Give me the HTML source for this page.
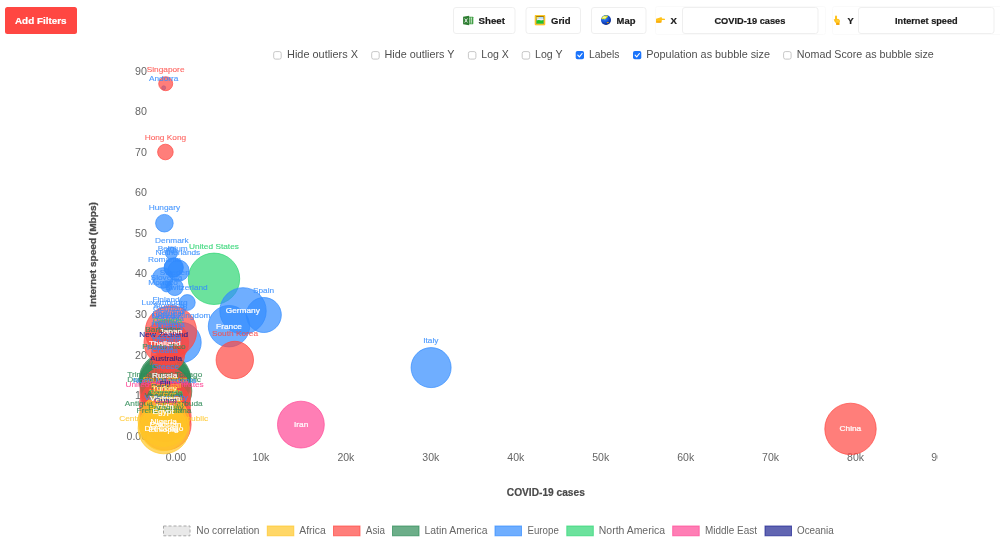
<!DOCTYPE html>
<html lang="en">
<head>
<meta charset="utf-8">
<title>Nomad List – COVID-19 cases vs Internet speed</title>
<style>
html,body{margin:0;padding:0;background:#fff;}
body{width:1000px;height:540px;overflow:hidden;font-family:'Liberation Sans', sans-serif;}
svg{display:block;will-change:transform;font-family:"Liberation Sans",sans-serif;}
svg text{font-family:"Liberation Sans",sans-serif;}
</style>
</head>
<body>
<svg width="1000" height="540" viewBox="0 0 1000 540">
<rect x="5" y="7" width="72" height="27" rx="2.5" fill="#ff4742"/>
<text x="15" y="23.6" font-size="9.4" font-weight="700" stroke="#fff" stroke-width=".2" fill="#fff" text-anchor="start" textLength="51.5" lengthAdjust="spacingAndGlyphs">Add Filters</text>
<rect x="453.5" y="7.5" width="61.5" height="26" rx="2.5" fill="#fff" stroke="#efefef"/>
<rect x="526.0" y="7.5" width="54.5" height="26" rx="2.5" fill="#fff" stroke="#efefef"/>
<rect x="591.5" y="7.5" width="54.5" height="26" rx="2.5" fill="#fff" stroke="#efefef"/>
<text x="478.6" y="23.6" font-size="9.4" font-weight="700" stroke="#1a1a1a" stroke-width=".2" fill="#1a1a1a" text-anchor="start" textLength="26.4" lengthAdjust="spacingAndGlyphs">Sheet</text>
<text x="551" y="23.6" font-size="9.4" font-weight="700" stroke="#1a1a1a" stroke-width=".2" fill="#1a1a1a" text-anchor="start" textLength="19.6" lengthAdjust="spacingAndGlyphs">Grid</text>
<text x="616.6" y="23.6" font-size="9.4" font-weight="700" stroke="#1a1a1a" stroke-width=".2" fill="#1a1a1a" text-anchor="start" textLength="18.8" lengthAdjust="spacingAndGlyphs">Map</text>
<rect x="655.5" y="6.5" width="170" height="28" rx="2" fill="#fff" stroke="#fafafa"/>
<rect x="832.5" y="6.5" width="170" height="28" rx="2" fill="#fff" stroke="#fafafa"/>
<rect x="682.5" y="7.5" width="135.5" height="26" rx="2.5" fill="#fff" stroke="#efefef"/>
<rect x="858.5" y="7.5" width="135.5" height="26" rx="2.5" fill="#fff" stroke="#efefef"/>
<text x="670.6" y="23.6" font-size="9.4" font-weight="700" stroke="#1a1a1a" stroke-width=".2" fill="#1a1a1a" text-anchor="start" textLength="6.4" lengthAdjust="spacingAndGlyphs">X</text>
<text x="847.4" y="23.6" font-size="9.4" font-weight="700" stroke="#1a1a1a" stroke-width=".2" fill="#1a1a1a" text-anchor="start" textLength="6.2" lengthAdjust="spacingAndGlyphs">Y</text>
<text x="714.4" y="23.6" font-size="9.4" font-weight="700" stroke="#1a1a1a" stroke-width=".2" fill="#1a1a1a" text-anchor="start" textLength="71" lengthAdjust="spacingAndGlyphs">COVID-19 cases</text>
<text x="895" y="23.6" font-size="9.4" font-weight="700" stroke="#1a1a1a" stroke-width=".2" fill="#1a1a1a" text-anchor="start" textLength="62.6" lengthAdjust="spacingAndGlyphs">Internet speed</text>
<g transform="translate(463.1,15.7)"><rect x="4.6" y="1.1" width="5.6" height="7.4" rx=".4" fill="#43a047"/><path d="M6.6 1.9v5.8M8.3 1.9v5.8" stroke="#fff" stroke-width=".9"/><path d="M5.4 3.5h4.6M5.4 5.1h4.6M5.4 6.6h4.6" stroke="#43a047" stroke-width=".45"/><path d="M0 1.1l6-1.1v9.6l-6-1.1z" fill="#2e7d32"/><path d="M1.6 2.8l2.7 4M4.3 2.8L1.6 6.8" stroke="#fff" stroke-width=".85"/></g>
<g transform="translate(534.8,15)"><rect width="10.4" height="10.2" rx=".7" fill="#f4b90a"/><rect x=".5" y=".5" width="9.4" height="9.2" rx=".4" fill="none" stroke="#ffd74a" stroke-width=".5"/><rect x="1.5" y="1.3" width="7.4" height="7.4" fill="#8a5c00"/><rect x="1.8" y="2" width="6.8" height="6.5" fill="#a9dcff"/><circle cx="2.9" cy="3" r="1.1" fill="#ffee55"/><rect x="2.4" y="3.7" width="6.2" height="1.3" fill="#eceaff"/><path d="M1.8 5.4q2-.9 3.6-.2q1.700.5 3.200-.2v3.500h-6.800z" fill="#22c522"/></g>
<defs><radialGradient id="gl" cx="38%" cy="32%" r="72%"><stop offset="0" stop-color="#3f8ff5"/><stop offset=".55" stop-color="#1652d6"/><stop offset="1" stop-color="#07207c"/></radialGradient></defs>
<g transform="translate(606,20)"><circle r="5" fill="url(#gl)"/><path d="M-4.6 -1.2C-4.200 -3.800 -1.400 -5.200 1.600 -4.400C2.300 -3.300 1.300 -2.300 .4 -2.100C-.5 -1.500 -.8 -.300 -1.700 -.700C-2.400 -1.500 -3.200 0 -4.600 -1.200z" fill="#dfe52a"/><ellipse cx="-1.6" cy="-2.7" rx="1.7" ry=".9" fill="#fffdd0" opacity=".75"/><ellipse cx="1.8" cy="2.6" rx="1.1" ry=".6" fill="#f0a400"/></g>
<g transform="translate(656,17)"><path d="M0 1.700L3.400 .800L5.500 0L6 1.600L8.800 1.700Q9.300 2.300 8.800 2.900L5.900 3.100L5.600 5.200Q3 6 0 5.600Z" fill="#ffc21a"/><rect x=".1" y="4.500" width="5.200" height="1.100" rx=".4" fill="#f39a00"/></g>
<g transform="translate(833.7,15.6)"><rect x="1.300" y="0" width="2" height="5.500" rx="1" fill="#ffc21a"/><path d="M0 3.800Q.600 3.100 1.300 3.900L1.300 3.200L3.300 3.200Q5.100 3.200 6 4.400Q6.600 5.800 5.800 7.300L5.700 9.200L2.500 9.200L2.300 7.500Q.700 6.200 0 3.800Z" fill="#ffc21a"/><rect x="2.500" y="7.700" width="3.200" height="1.500" rx=".4" fill="#f39a00"/><path d="M3.300 4.200v2M4.500 4.500v1.800" stroke="#ffe27a" stroke-width=".5"/></g>
<rect x="273.7" y="51.6" width="7.5" height="7.5" rx="1.8" fill="#fff" stroke="#b9b9b9" stroke-width=".8"/>
<text x="287" y="57.7" font-size="11.2" fill="#4f4f4f" text-anchor="start" textLength="71" lengthAdjust="spacingAndGlyphs">Hide outliers X</text>
<rect x="371.7" y="51.6" width="7.5" height="7.5" rx="1.8" fill="#fff" stroke="#b9b9b9" stroke-width=".8"/>
<text x="384.5" y="57.7" font-size="11.2" fill="#4f4f4f" text-anchor="start" textLength="70" lengthAdjust="spacingAndGlyphs">Hide outliers Y</text>
<rect x="468.4" y="51.6" width="7.5" height="7.5" rx="1.8" fill="#fff" stroke="#b9b9b9" stroke-width=".8"/>
<text x="481.3" y="57.7" font-size="11.2" fill="#4f4f4f" text-anchor="start" textLength="27.5" lengthAdjust="spacingAndGlyphs">Log X</text>
<rect x="522.1999999999999" y="51.6" width="7.5" height="7.5" rx="1.8" fill="#fff" stroke="#b9b9b9" stroke-width=".8"/>
<text x="535" y="57.7" font-size="11.2" fill="#4f4f4f" text-anchor="start" textLength="27.5" lengthAdjust="spacingAndGlyphs">Log Y</text>
<rect x="575.7" y="50.9" width="8.3" height="8.3" rx="1.8" fill="#1b74fb"/>
<path d="M577.8000000000001 55.2l1.6 1.6l2.7-3.3" fill="none" stroke="#fff" stroke-width="1.15" stroke-linecap="round" stroke-linejoin="round"/>
<text x="589" y="57.7" font-size="11.2" fill="#4f4f4f" text-anchor="start" textLength="30.5" lengthAdjust="spacingAndGlyphs">Labels</text>
<rect x="633" y="50.9" width="8.3" height="8.3" rx="1.8" fill="#1b74fb"/>
<path d="M635.1 55.2l1.6 1.6l2.7-3.3" fill="none" stroke="#fff" stroke-width="1.15" stroke-linecap="round" stroke-linejoin="round"/>
<text x="646.3" y="57.7" font-size="11.2" fill="#4f4f4f" text-anchor="start" textLength="123.7" lengthAdjust="spacingAndGlyphs">Population as bubble size</text>
<rect x="783.6" y="51.6" width="7.5" height="7.5" rx="1.8" fill="#fff" stroke="#b9b9b9" stroke-width=".8"/>
<text x="796.8" y="57.7" font-size="11.2" fill="#4f4f4f" text-anchor="start" textLength="137" lengthAdjust="spacingAndGlyphs">Nomad Score as bubble size</text>
<text x="126.6" y="439.6" font-size="10.4" fill="#666" text-anchor="start" textLength="20.4" lengthAdjust="spacingAndGlyphs">0.00</text>
<text x="135.1" y="399.0" font-size="10.4" fill="#666" text-anchor="start" textLength="11.9" lengthAdjust="spacingAndGlyphs">10</text>
<text x="135.1" y="358.5" font-size="10.4" fill="#666" text-anchor="start" textLength="11.9" lengthAdjust="spacingAndGlyphs">20</text>
<text x="135.1" y="317.9" font-size="10.4" fill="#666" text-anchor="start" textLength="11.9" lengthAdjust="spacingAndGlyphs">30</text>
<text x="135.1" y="277.4" font-size="10.4" fill="#666" text-anchor="start" textLength="11.9" lengthAdjust="spacingAndGlyphs">40</text>
<text x="135.1" y="236.8" font-size="10.4" fill="#666" text-anchor="start" textLength="11.9" lengthAdjust="spacingAndGlyphs">50</text>
<text x="135.1" y="196.3" font-size="10.4" fill="#666" text-anchor="start" textLength="11.9" lengthAdjust="spacingAndGlyphs">60</text>
<text x="135.1" y="155.7" font-size="10.4" fill="#666" text-anchor="start" textLength="11.9" lengthAdjust="spacingAndGlyphs">70</text>
<text x="135.1" y="115.2" font-size="10.4" fill="#666" text-anchor="start" textLength="11.9" lengthAdjust="spacingAndGlyphs">80</text>
<text x="135.1" y="74.6" font-size="10.4" fill="#666" text-anchor="start" textLength="11.9" lengthAdjust="spacingAndGlyphs">90</text>
<clipPath id="cx"><rect x="0" y="440" width="938" height="30"/></clipPath>
<g clip-path="url(#cx)">
<text x="165.8" y="460.8" font-size="10.4" fill="#666" text-anchor="start" textLength="20.4" lengthAdjust="spacingAndGlyphs">0.00</text>
<text x="252.4" y="460.8" font-size="10.4" fill="#666" text-anchor="start" textLength="17" lengthAdjust="spacingAndGlyphs">10k</text>
<text x="337.4" y="460.8" font-size="10.4" fill="#666" text-anchor="start" textLength="17" lengthAdjust="spacingAndGlyphs">20k</text>
<text x="422.3" y="460.8" font-size="10.4" fill="#666" text-anchor="start" textLength="17" lengthAdjust="spacingAndGlyphs">30k</text>
<text x="507.3" y="460.8" font-size="10.4" fill="#666" text-anchor="start" textLength="17" lengthAdjust="spacingAndGlyphs">40k</text>
<text x="592.2" y="460.8" font-size="10.4" fill="#666" text-anchor="start" textLength="17" lengthAdjust="spacingAndGlyphs">50k</text>
<text x="677.2" y="460.8" font-size="10.4" fill="#666" text-anchor="start" textLength="17" lengthAdjust="spacingAndGlyphs">60k</text>
<text x="762.1" y="460.8" font-size="10.4" fill="#666" text-anchor="start" textLength="17" lengthAdjust="spacingAndGlyphs">70k</text>
<text x="847.1" y="460.8" font-size="10.4" fill="#666" text-anchor="start" textLength="17" lengthAdjust="spacingAndGlyphs">80k</text>
<text x="931.3" y="460.8" font-size="10.4" fill="#666" text-anchor="start" textLength="17" lengthAdjust="spacingAndGlyphs">90k</text>
</g>
<text x="506.8" y="496" font-size="10.4" font-weight="700" stroke="#4a4a4a" stroke-width=".2" fill="#4a4a4a" text-anchor="start" textLength="78" lengthAdjust="spacingAndGlyphs">COVID-19 cases</text>
<text transform="translate(95.7,306.9) rotate(-90)" font-size="9.3" font-weight="700" fill="#4a4a4a" stroke="#4a4a4a" stroke-width=".3" textLength="104.8" lengthAdjust="spacingAndGlyphs">Internet speed (Mbps)</text>
<g fill="rgba(30,35,145,0.7)" stroke="rgba(30,35,145,0.7)" stroke-width="1">
<circle cx="164" cy="347" r="6.6"/>
<circle cx="166" cy="381" r="13.6"/>
</g>
<g fill="rgba(255,71,150,0.7)" stroke="rgba(255,71,150,0.7)" stroke-width="1">
<circle cx="300.9" cy="424.6" r="23.4"/>
</g>
<g fill="rgba(46,213,115,0.7)" stroke="rgba(46,213,115,0.7)" stroke-width="1">
<circle cx="214" cy="278.8" r="25.7"/>
<circle cx="167.5" cy="342.5" r="15.6"/>
</g>
<g fill="rgba(50,140,255,0.7)" stroke="rgba(50,140,255,0.7)" stroke-width="1">
<circle cx="163.7" cy="87.8" r="2"/>
<circle cx="164.4" cy="223.2" r="8.8"/>
<circle cx="171.5" cy="253" r="6.1"/>
<circle cx="173.8" cy="267.4" r="9.6"/>
<circle cx="173.5" cy="267.8" r="9.4"/>
<circle cx="178.5" cy="270.7" r="10.6"/>
<circle cx="162.8" cy="278" r="10.3"/>
<circle cx="174.8" cy="287.2" r="8.4"/>
<circle cx="166.5" cy="286.3" r="5.6"/>
<circle cx="187.3" cy="302.5" r="7.9"/>
<circle cx="263.8" cy="315" r="17.5"/>
<circle cx="243" cy="310.9" r="23.2"/>
<circle cx="229" cy="326.2" r="20.7"/>
<circle cx="431.1" cy="367.6" r="20.0"/>
<circle cx="181" cy="342.5" r="20.2"/>
</g>
<g fill="rgba(46,139,87,0.7)" stroke="rgba(46,139,87,0.7)" stroke-width="1">
<circle cx="165" cy="379.3" r="25.8"/>
<circle cx="165.2" cy="380.5" r="25.4"/>
<circle cx="165.3" cy="383" r="25.6"/>
<circle cx="166.2" cy="391" r="25.6"/>
</g>
<g fill="rgba(255,71,66,0.7)" stroke="rgba(255,71,66,0.7)" stroke-width="1">
<circle cx="165.7" cy="83.7" r="7.0"/>
<circle cx="165.4" cy="152" r="7.8"/>
<circle cx="234.8" cy="360" r="18.7"/>
<circle cx="850.5" cy="428.9" r="25.7"/>
<circle cx="170.9" cy="331.4" r="25.7"/>
<circle cx="166.3" cy="342.5" r="22.3"/>
<circle cx="168" cy="355" r="16.6"/>
<circle cx="165.5" cy="392.3" r="25.6"/>
<circle cx="165" cy="405" r="25.6"/>
<circle cx="165.5" cy="416" r="25.6"/>
<circle cx="165.5" cy="424.5" r="25.6"/>
</g>
<g fill="rgba(255,198,38,0.7)" stroke="rgba(255,198,38,0.7)" stroke-width="1">
<circle cx="163.1" cy="411.2" r="11.6"/>
<circle cx="163.7" cy="420.9" r="25.6"/>
<circle cx="163.7" cy="428.2" r="25.6"/>
<circle cx="163.5" cy="427.5" r="23.1"/>
</g>
<g font-size="7.55" text-anchor="middle">
<text transform="translate(165.6,72.2) scale(1.1,1)" fill="rgba(255,71,66,0.8)" stroke="rgba(255,71,66,0.8)" stroke-width=".12">Singapore</text>
<text transform="translate(163.7,81.3) scale(1.1,1)" fill="rgba(50,140,255,0.85)" stroke="rgba(50,140,255,0.85)" stroke-width=".12">Andorra</text>
<text transform="translate(165.4,139.9) scale(1.1,1)" fill="rgba(255,71,66,0.8)" stroke="rgba(255,71,66,0.8)" stroke-width=".12">Hong Kong</text>
<text transform="translate(164.4,210.2) scale(1.1,1)" fill="rgba(50,140,255,0.85)" stroke="rgba(50,140,255,0.85)" stroke-width=".12">Hungary</text>
<text transform="translate(171.9,242.7) scale(1.1,1)" fill="rgba(50,140,255,0.85)" stroke="rgba(50,140,255,0.85)" stroke-width=".12">Denmark</text>
<text transform="translate(214,248.7) scale(1.1,1)" fill="rgba(46,213,115,0.88)" stroke="rgba(46,213,115,0.88)" stroke-width=".12">United States</text>
<text transform="translate(172.7,251.3) scale(1.1,1)" fill="rgba(50,140,255,0.85)" stroke="rgba(50,140,255,0.85)" stroke-width=".12">Belgium</text>
<text transform="translate(177.9,254.7) scale(1.1,1)" fill="rgba(50,140,255,0.85)" stroke="rgba(50,140,255,0.85)" stroke-width=".12">Netherlands</text>
<text transform="translate(164.5,262.1) scale(1.1,1)" fill="rgba(50,140,255,0.85)" stroke="rgba(50,140,255,0.85)" stroke-width=".12">Romania</text>
<text transform="translate(174.8,274.5) scale(1.1,1)" fill="rgba(50,140,255,0.85)" stroke="rgba(50,140,255,0.85)" stroke-width=".12">Sweden</text>
<text transform="translate(166.5,280.0) scale(1.1,1)" fill="rgba(50,140,255,0.85)" stroke="rgba(50,140,255,0.85)" stroke-width=".12">Slovenia</text>
<text transform="translate(163,284.5) scale(1.1,1)" fill="rgba(50,140,255,0.85)" stroke="rgba(50,140,255,0.85)" stroke-width=".12">Monaco</text>
<text transform="translate(186.3,289.5) scale(1.1,1)" fill="rgba(50,140,255,0.85)" stroke="rgba(50,140,255,0.85)" stroke-width=".12">Switzerland</text>
<text transform="translate(263.5,292.9) scale(1.1,1)" fill="rgba(50,140,255,0.85)" stroke="rgba(50,140,255,0.85)" stroke-width=".12">Spain</text>
<text transform="translate(242.8,313.1) scale(1.1,1)" fill="#fff" fill-opacity=".95" stroke="#fff" stroke-width=".25" stroke-opacity=".9">Germany</text>
<text transform="translate(229,328.9) scale(1.1,1)" fill="#fff" fill-opacity=".95" stroke="#fff" stroke-width=".25" stroke-opacity=".9">France</text>
<text transform="translate(235,335.5) scale(1.1,1)" fill="rgba(255,71,66,0.8)" stroke="rgba(255,71,66,0.8)" stroke-width=".12">South Korea</text>
<text transform="translate(430.8,342.9) scale(1.1,1)" fill="rgba(50,140,255,0.85)" stroke="rgba(50,140,255,0.85)" stroke-width=".12">Italy</text>
<text transform="translate(301.1,426.9) scale(1.1,1)" fill="#fff" fill-opacity=".95" stroke="#fff" stroke-width=".25" stroke-opacity=".9">Iran</text>
<text transform="translate(850.4,431.0) scale(1.1,1)" fill="#fff" fill-opacity=".95" stroke="#fff" stroke-width=".25" stroke-opacity=".9">China</text>
<text transform="translate(166,301.9) scale(1.1,1)" fill="rgba(50,140,255,0.85)" stroke="rgba(50,140,255,0.85)" stroke-width=".12">Finland</text>
<text transform="translate(164.6,304.7) scale(1.1,1)" fill="rgba(50,140,255,0.85)" stroke="rgba(50,140,255,0.85)" stroke-width=".12">Luxembourg</text>
<text transform="translate(169,307.7) scale(1.1,1)" fill="rgba(50,140,255,0.85)" stroke="rgba(50,140,255,0.85)" stroke-width=".12">Slovakia</text>
<text transform="translate(170,310.7) scale(1.1,1)" fill="rgba(50,140,255,0.85)" stroke="rgba(50,140,255,0.85)" stroke-width=".12">Germany</text>
<text transform="translate(171,313.5) scale(1.1,1)" fill="rgba(50,140,255,0.85)" stroke="rgba(50,140,255,0.85)" stroke-width=".12">Iceland</text>
<text transform="translate(168,316.0) scale(1.1,1)" fill="rgba(50,140,255,0.85)" stroke="rgba(50,140,255,0.85)" stroke-width=".12">Portugal</text>
<text transform="translate(181,317.7) scale(1.1,1)" fill="rgba(50,140,255,0.85)" stroke="rgba(50,140,255,0.85)" stroke-width=".12">United Kingdom</text>
<text transform="translate(166,318.7) scale(1.1,1)" fill="rgba(50,140,255,0.85)" stroke="rgba(50,140,255,0.85)" stroke-width=".12">Norway</text>
<text transform="translate(170,321.3) scale(1.1,1)" fill="rgba(50,140,255,0.85)" stroke="rgba(50,140,255,0.85)" stroke-width=".12">Estonia</text>
<text transform="translate(167.5,323.0) scale(1.1,1)" fill="rgba(46,213,115,0.88)" stroke="rgba(46,213,115,0.88)" stroke-width=".12">Canada</text>
<text transform="translate(165,324.7) scale(1.1,1)" fill="rgba(50,140,255,0.85)" stroke="rgba(50,140,255,0.85)" stroke-width=".12">Ireland</text>
<text transform="translate(168,327.3) scale(1.1,1)" fill="rgba(50,140,255,0.85)" stroke="rgba(50,140,255,0.85)" stroke-width=".12">Lithuania</text>
<text transform="translate(170,330.0) scale(1.1,1)" fill="rgba(50,140,255,0.85)" stroke="rgba(50,140,255,0.85)" stroke-width=".12">Austria</text>
<text transform="translate(163,332.0) scale(1.1,1)" fill="rgba(46,139,87,0.85)" stroke="rgba(46,139,87,0.85)" stroke-width=".12">Barbados</text>
<text transform="translate(170.9,333.5) scale(1.1,1)" fill="#fff" fill-opacity=".95" stroke="#fff" stroke-width=".25" stroke-opacity=".9">Japan</text>
<text transform="translate(163.8,336.6) scale(1.1,1)" fill="rgba(30,35,145,0.9)" stroke="rgba(30,35,145,0.9)" stroke-width=".12">New Zealand</text>
<text transform="translate(166,339.2) scale(1.1,1)" fill="rgba(50,140,255,0.85)" stroke="rgba(50,140,255,0.85)" stroke-width=".12">Czechia</text>
<text transform="translate(167,341.7) scale(1.1,1)" fill="rgba(50,140,255,0.85)" stroke="rgba(50,140,255,0.85)" stroke-width=".12">Ukraine</text>
<text transform="translate(164.8,345.5) scale(1.1,1)" fill="#fff" fill-opacity=".95" stroke="#fff" stroke-width=".25" stroke-opacity=".9">Thailand</text>
<text transform="translate(164,349.3) scale(1.1,1)" fill="rgba(46,139,87,0.85)" stroke="rgba(46,139,87,0.85)" stroke-width=".12">Puerto Rico</text>
<text transform="translate(160,349.6) scale(1.1,1)" fill="rgba(50,140,255,0.85)" stroke="rgba(50,140,255,0.85)" stroke-width=".12">Poland</text>
<text transform="translate(164.6,353.1) scale(1.1,1)" fill="rgba(50,140,255,0.85)" stroke="rgba(50,140,255,0.85)" stroke-width=".12">Croatia</text>
<text transform="translate(166,361.0) scale(1.1,1)" fill="rgba(30,35,145,0.9)" stroke="rgba(30,35,145,0.9)" stroke-width=".12">Australia</text>
<text transform="translate(165.5,364.7) scale(1.1,1)" fill="rgba(255,71,66,0.8)" stroke="rgba(255,71,66,0.8)" stroke-width=".12">Malaysia</text>
<text transform="translate(165.5,369.3) scale(1.1,1)" fill="rgba(50,140,255,0.85)" stroke="rgba(50,140,255,0.85)" stroke-width=".12">Greece</text>
<text transform="translate(165,372.7) scale(1.1,1)" fill="rgba(255,71,66,0.8)" stroke="rgba(255,71,66,0.8)" stroke-width=".12">Taiwan</text>
<text transform="translate(164.7,376.9) scale(1.1,1)" fill="rgba(46,139,87,0.85)" stroke="rgba(46,139,87,0.85)" stroke-width=".12">Trinidad and Tobago</text>
<text transform="translate(164,381.9) scale(1.1,1)" fill="rgba(46,139,87,0.85)" stroke="rgba(46,139,87,0.85)" stroke-width=".12">Dominican Republic</text>
<text transform="translate(164.6,377.5) scale(1.1,1)" fill="#fff" fill-opacity=".95" stroke="#fff" stroke-width=".25" stroke-opacity=".9">Russia</text>
<text transform="translate(164.6,386.9) scale(1.1,1)" fill="rgba(255,71,150,0.88)" stroke="rgba(255,71,150,0.88)" stroke-width=".12">United Arab Emirates</text>
<text transform="translate(165,381.7) scale(1.1,1)" fill="rgba(255,198,38,0.8)" stroke="rgba(255,198,38,0.8)" stroke-width=".12">South Africa</text>
<text transform="translate(164.5,383.0) scale(1.1,1)" fill="rgba(50,140,255,0.85)" stroke="rgba(50,140,255,0.85)" stroke-width=".12">North Macedonia</text>
<text transform="translate(165,385.0) scale(1.1,1)" fill="rgba(255,71,150,0.88)" stroke="rgba(255,71,150,0.88)" stroke-width=".12">Saudi Arabia</text>
<text transform="translate(165,386.2) scale(1.1,1)" fill="rgba(30,35,145,0.9)" stroke="rgba(30,35,145,0.9)" stroke-width=".12">Fiji</text>
<text transform="translate(166,388.3) scale(1.1,1)" fill="rgba(255,198,38,0.8)" stroke="rgba(255,198,38,0.8)" stroke-width=".12">Senegal</text>
<text transform="translate(160,389.2) scale(1.1,1)" fill="rgba(46,139,87,0.85)" stroke="rgba(46,139,87,0.85)" stroke-width=".12">Peru</text>
<text transform="translate(164.5,390.9) scale(1.1,1)" fill="#fff" fill-opacity=".95" stroke="#fff" stroke-width=".25" stroke-opacity=".9">Turkey</text>
<text transform="translate(164.5,391.3) scale(1.1,1)" fill="rgba(255,198,38,0.8)" stroke="rgba(255,198,38,0.8)" stroke-width=".12">Tunisia</text>
<text transform="translate(165,393.7) scale(1.1,1)" fill="rgba(255,198,38,0.8)" stroke="rgba(255,198,38,0.8)" stroke-width=".12">Morocco</text>
<text transform="translate(166,395.0) scale(1.1,1)" fill="rgba(46,213,115,0.88)" stroke="rgba(46,213,115,0.88)" stroke-width=".12">Bermuda</text>
<text transform="translate(164.5,396.3) scale(1.1,1)" fill="rgba(46,139,87,0.85)" stroke="rgba(46,139,87,0.85)" stroke-width=".12">Argentina</text>
<text transform="translate(164,396.9) scale(1.1,1)" fill="rgba(255,198,38,0.8)" stroke="rgba(255,198,38,0.8)" stroke-width=".12">Kenya</text>
<text transform="translate(164,398.3) scale(1.1,1)" fill="rgba(46,139,87,0.85)" stroke="rgba(46,139,87,0.85)" stroke-width=".12">Venezuela</text>
<text transform="translate(166,399.5) scale(1.1,1)" fill="rgba(50,140,255,0.85)" stroke="rgba(50,140,255,0.85)" stroke-width=".12">Vatican City</text>
<text transform="translate(166,401.3) scale(1.1,1)" fill="rgba(255,198,38,0.8)" stroke="rgba(255,198,38,0.8)" stroke-width=".12">Tanzania</text>
<text transform="translate(165,400.7) scale(1.1,1)" fill="#fff" fill-opacity=".95" stroke="#fff" stroke-width=".25" stroke-opacity=".9">Vietnam</text>
<text transform="translate(165.5,403.3) scale(1.1,1)" fill="rgba(30,35,145,0.9)" stroke="rgba(30,35,145,0.9)" stroke-width=".12">Guam</text>
<text transform="translate(163.7,405.7) scale(1.1,1)" fill="rgba(46,139,87,0.85)" stroke="rgba(46,139,87,0.85)" stroke-width=".12">Antigua and Barbuda</text>
<text transform="translate(165,405.3) scale(1.1,1)" fill="rgba(255,71,150,0.88)" stroke="rgba(255,71,150,0.88)" stroke-width=".12">Jordan</text>
<text transform="translate(165,407.3) scale(1.1,1)" fill="rgba(255,198,38,0.8)" stroke="rgba(255,198,38,0.8)" stroke-width=".12">Cameroon</text>
<text transform="translate(165,409.0) scale(1.1,1)" fill="#fff" fill-opacity=".95" stroke="#fff" stroke-width=".25" stroke-opacity=".9">India</text>
<text transform="translate(166,410.0) scale(1.1,1)" fill="rgba(46,139,87,0.85)" stroke="rgba(46,139,87,0.85)" stroke-width=".12">Paraguay</text>
<text transform="translate(164,413.0) scale(1.1,1)" fill="rgba(46,139,87,0.85)" stroke="rgba(46,139,87,0.85)" stroke-width=".12">French Guiana</text>
<text transform="translate(163.1,413.9) scale(1.1,1)" fill="#fff" fill-opacity=".95" stroke="#fff" stroke-width=".25" stroke-opacity=".9">Egypt</text>
<text transform="translate(163.7,421.3) scale(1.1,1)" fill="rgba(255,198,38,0.8)" stroke="rgba(255,198,38,0.8)" stroke-width=".12">Central African Republic</text>
<text transform="translate(163.7,423.6) scale(1.1,1)" fill="#fff" fill-opacity=".95" stroke="#fff" stroke-width=".25" stroke-opacity=".9">Nigeria</text>
<text transform="translate(165.5,427.2) scale(1.1,1)" fill="#fff" fill-opacity=".95" stroke="#fff" stroke-width=".25" stroke-opacity=".9">Pakistan</text>
<text transform="translate(163.9,431.4) scale(1.1,1)" fill="#fff" fill-opacity=".95" stroke="#fff" stroke-width=".25" stroke-opacity=".9">DR Congo</text>
<text transform="translate(163.5,431.6) scale(1.1,1)" fill="#fff" fill-opacity=".95" stroke="#fff" stroke-width=".25" stroke-opacity=".9">Ethiopia</text>
</g>
<rect x="163.5" y="526" width="26.5" height="9.8" fill="#e9e9e9" stroke="#a8a8a8" stroke-width="1" stroke-dasharray="3 2"/>
<text x="196.3" y="534.2" font-size="10.6" fill="#666" text-anchor="start" textLength="63.2" lengthAdjust="spacingAndGlyphs">No correlation</text>
<rect x="267.3" y="526" width="26.5" height="9.8" fill="rgba(255,198,38,0.7)" stroke="rgba(255,198,38,0.7)" stroke-width="1"/>
<text x="299.3" y="534.2" font-size="10.6" fill="#666" text-anchor="start" textLength="26.5" lengthAdjust="spacingAndGlyphs">Africa</text>
<rect x="333.5" y="526" width="26.5" height="9.8" fill="rgba(255,71,66,0.7)" stroke="rgba(255,71,66,0.7)" stroke-width="1"/>
<text x="365.8" y="534.2" font-size="10.6" fill="#666" text-anchor="start" textLength="19.2" lengthAdjust="spacingAndGlyphs">Asia</text>
<rect x="392.5" y="526" width="26.5" height="9.8" fill="rgba(46,139,87,0.7)" stroke="rgba(46,139,87,0.7)" stroke-width="1"/>
<text x="424.5" y="534.2" font-size="10.6" fill="#666" text-anchor="start" textLength="63" lengthAdjust="spacingAndGlyphs">Latin America</text>
<rect x="495.0" y="526" width="26.5" height="9.8" fill="rgba(50,140,255,0.7)" stroke="rgba(50,140,255,0.7)" stroke-width="1"/>
<text x="527.5" y="534.2" font-size="10.6" fill="#666" text-anchor="start" textLength="31.3" lengthAdjust="spacingAndGlyphs">Europe</text>
<rect x="566.8" y="526" width="26.5" height="9.8" fill="rgba(46,213,115,0.7)" stroke="rgba(46,213,115,0.7)" stroke-width="1"/>
<text x="598.8" y="534.2" font-size="10.6" fill="#666" text-anchor="start" textLength="66.2" lengthAdjust="spacingAndGlyphs">North America</text>
<rect x="672.7" y="526" width="26.5" height="9.8" fill="rgba(255,71,150,0.7)" stroke="rgba(255,71,150,0.7)" stroke-width="1"/>
<text x="705" y="534.2" font-size="10.6" fill="#666" text-anchor="start" textLength="52" lengthAdjust="spacingAndGlyphs">Middle East</text>
<rect x="765.0" y="526" width="26.5" height="9.8" fill="rgba(30,35,145,0.7)" stroke="rgba(30,35,145,0.7)" stroke-width="1"/>
<text x="797" y="534.2" font-size="10.6" fill="#666" text-anchor="start" textLength="36.8" lengthAdjust="spacingAndGlyphs">Oceania</text>
</svg>
</body>
</html>
